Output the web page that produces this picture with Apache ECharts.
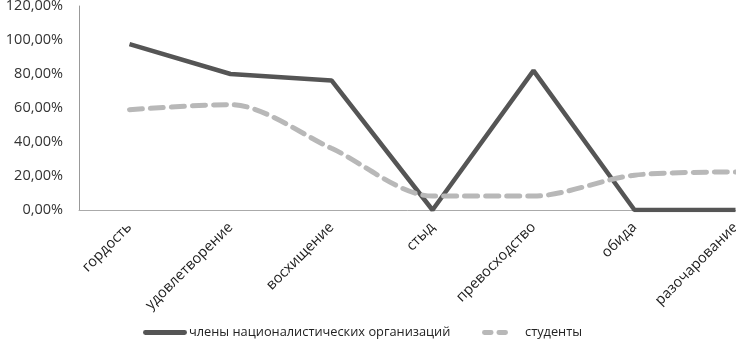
<!DOCTYPE html>
<html><head><meta charset="utf-8">
<script src="https://cdn.jsdelivr.net/npm/echarts@6/dist/echarts.min.js"></script>
<style>html,body{margin:0;padding:0;background:#fff}#c{width:736px;height:343px}</style>
</head><body><div id="c"></div>
<script>
const categories = ['гордость','удовлетворение','восхищение','стыд','превосходство','обида','разочарование'];
const members = [0.976, 0.80, 0.762, 0, 0.82, 0, 0];
const students = [0.59, 0.62, 0.363, 0.082, 0.082, 0.205, 0.224];
const yTicks = [0, 0.2, 0.4, 0.6, 0.8, 1.0, 1.2];
const seriesNames = ['члены националистических организаций', 'студенты'];
const font = 'Open Sans';
const chart = echarts.init(document.getElementById('c'));
chart.setOption({
  animation: false,
  grid: {left: 79, top: 6, width: 707, height: 204, outerBoundsMode: 'none', containLabel: false},
  xAxis: {
    type: 'category', data: categories, boundaryGap: true,
    axisLine: {lineStyle: {color: '#aaa', width: 1}},
    axisTick: {show: false},
    axisLabel: {rotate: 45, margin: 15, fontFamily: font, fontSize: 14.5, color: '#222', interval: 0}
  },
  yAxis: {
    type: 'value', min: 0, max: 1.2, interval: 0.2,
    axisLine: {show: true, lineStyle: {color: '#999', width: 1}},
    axisTick: {show: false},
    splitLine: {show: false},
    axisLabel: {margin: 16, fontFamily: font, fontSize: 14.5, color: '#333',
      formatter: v => (v*100).toFixed(2).replace('.', ',') + '%'}
  },
  legend: [
    {data: [{name: seriesNames[0], icon: 'path://M2,0h40a2,2 0 0 1 0,5h-40a2,2 0 0 1 0,-5z'}],
     left: 138, top: 321, itemWidth: 44, itemHeight: 5, itemGap: 2,
     textStyle: {fontFamily: font, fontSize: 12.8, color: '#222', padding: [0,0,0,-3]}},
    {data: [{name: seriesNames[1], icon: 'path://M2,0h7a2,2 0 0 1 0,5h-7a2,2 0 0 1 0,-5z M17,0h7a2,2 0 0 1 0,5h-7a2,2 0 0 1 0,-5z'}],
     left: 477, top: 321, itemWidth: 26, itemHeight: 5,
     textStyle: {fontFamily: font, fontSize: 12.8, color: '#222', padding: [0,0,0,12]}}
  ],
  series: [
    {name: seriesNames[0], type: 'line', data: members, symbol: 'none',
     lineStyle: {color: '#555', width: 4.5}, itemStyle: {color: '#555'}},
    {name: seriesNames[1], type: 'line', data: students, symbol: 'none', smooth: 0.3,
     lineStyle: {color: '#b8b8b8', width: 5, type: [13, 8], cap: 'round'}, itemStyle: {color: '#b8b8b8'}}
  ]
});
</script></body></html>
